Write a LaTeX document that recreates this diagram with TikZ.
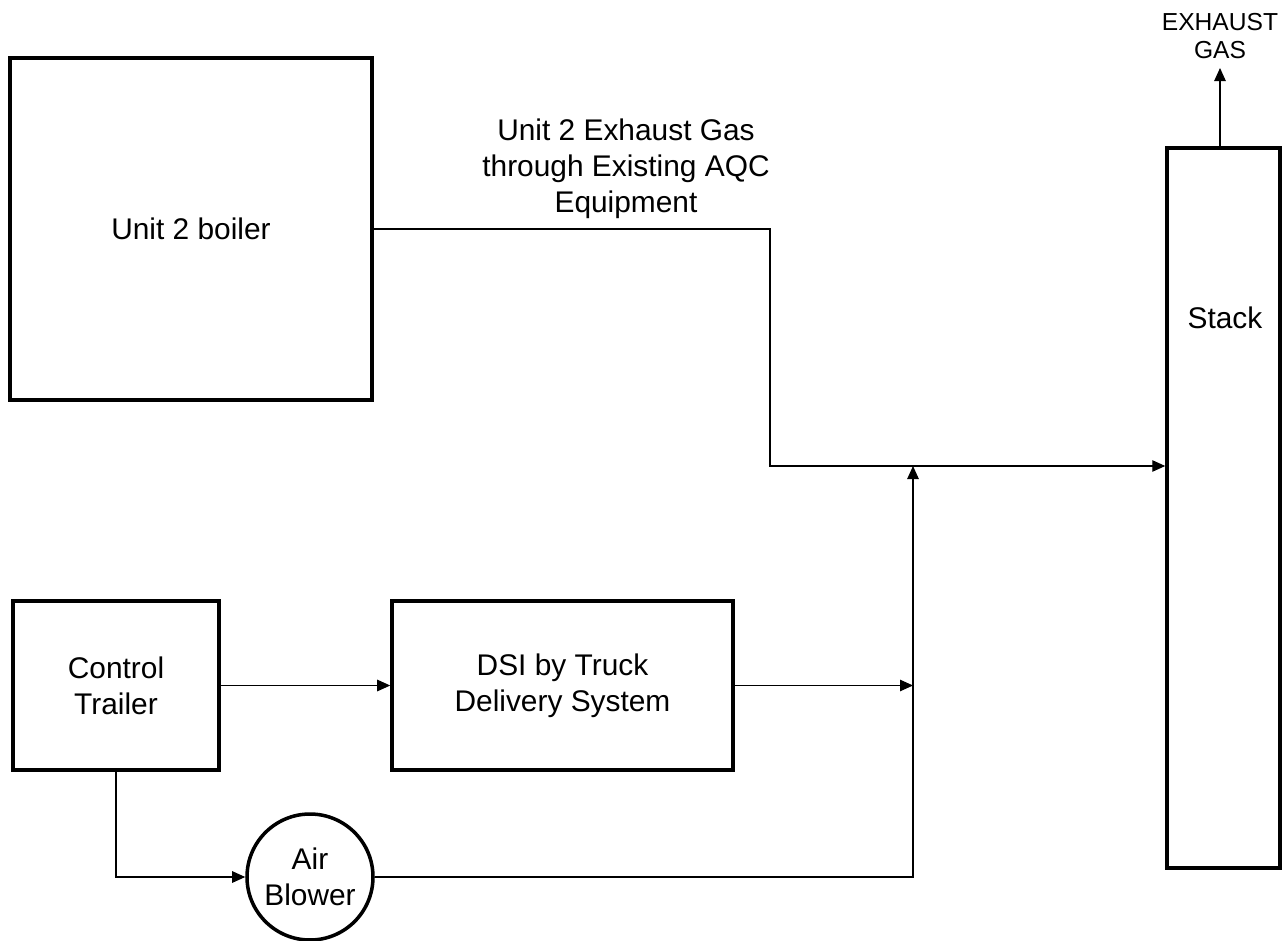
\documentclass[tikz,border=0pt]{standalone}
\usepackage{fontspec}
\setmainfont{Liberation Sans}
\usetikzlibrary{arrows.meta}

\begin{document}
\begin{tikzpicture}[
  >={Triangle[length=2.6mm,width=2.3mm]},
  bloco/.style={draw, line width=2pt, inner sep=0pt, align=center},
  linha/.style={line width=0.6pt},
  font=\fontsize{17}{20.5}\selectfont
]
\useasboundingbox (0,0) rectangle (25.66,-18.82);

% Caldeira e chaminé
\node[bloco, minimum width=7.24cm, minimum height=6.84cm] (caldeira) at (3.82,-4.58) {Unit 2 boiler};
\node[bloco, minimum width=2.26cm, minimum height=14.4cm] (chamine) at (24.47,-10.16) {};
\node at (24.5,-6.36) {Stack};

% Saída de gás
\coordinate (topo) at (24.4,-1.36);
\draw[linha, ->] (chamine.north -| topo) -- (topo);
\node[align=center, font=\fontsize{14}{16}\selectfont] (exaustao) at (24.4,-0.72) {EXHAUST\\GAS};

% Linha de gás da caldeira
\coordinate (canto) at (15.4,-4.58);
\coordinate (juncao) at (18.26,-9.32);
\draw[linha, ->] (caldeira.east) -- (canto) -- (canto |- juncao) -- (juncao -| chamine.west);
\node[align=center] (rotulo) at (12.52,-3.38) {Unit 2 Exhaust Gas\\through Existing AQC\\Equipment};

% Reboque de controle e sistema DSI
\node[bloco, minimum width=4.12cm, minimum height=3.38cm] (reboque) at (2.32,-13.71) {Control\\Trailer};
\node[bloco, minimum width=6.82cm, minimum height=3.38cm] (dsi) at (11.25,-13.71) {DSI by Truck\\Delivery System};
\draw[linha, ->] (reboque.east) -- (dsi.west);
\draw[linha, ->] (dsi.east) -- (dsi.east -| juncao);

% Soprador de ar
\node[bloco, circle, minimum size=2.52cm] (soprador) at (6.2,-17.54) {Air\\Blower};
\draw[linha, ->] (reboque.south) |- (soprador.west);
\coordinate (base) at (soprador.east -| juncao);
\draw[linha, ->] (soprador.east) -- (base) -- (juncao);

\end{tikzpicture}
\end{document}
